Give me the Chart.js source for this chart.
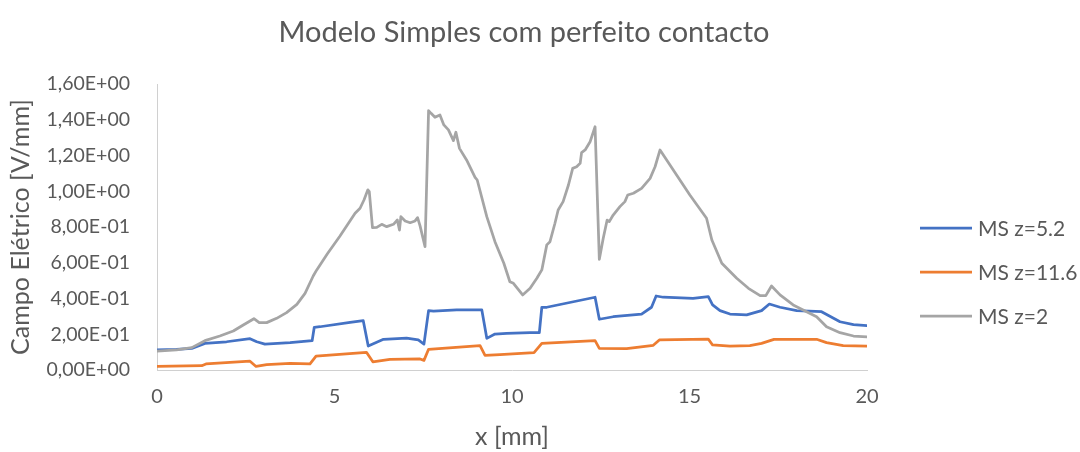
<!DOCTYPE html>
<html>
<head>
<meta charset="utf-8">
<script src="https://cdn.jsdelivr.net/npm/chart.js@4.4.1/dist/chart.umd.min.js"></script>
<style>
  html, body { margin: 0; padding: 0; background: #ffffff; }
  #wrap { width: 1080px; height: 452px; }
</style>
</head>
<body>
<div id="wrap"><canvas id="c" width="1080" height="452"></canvas></div>
<script>
// Campo elétrico ao longo de x para três alturas z (Modelo Simples)
const chartTitle = 'Modelo Simples com perfeito contacto';
const xAxisTitle = 'x [mm]';
const yAxisTitle = 'Campo Elétrico [V/mm]';
const seriesNames = ['MS z=5.2', 'MS z=11.6', 'MS z=2'];

const xTicks = [0, 5, 10, 15, 20];
const yTicks = [0, 0.2, 0.4, 0.6, 0.8, 1.0, 1.2, 1.4, 1.6];

// MS z=5.2
const xZ52 = [0, 0.55, 0.98, 1.35, 1.96, 2.62, 2.81, 3.04, 3.75, 4.37, 4.43, 4.59, 5.44, 5.81, 5.95, 6.38, 7.03, 7.36, 7.52, 7.65, 7.79, 8.44, 9.15, 9.29, 9.52, 9.85, 10.51, 10.77, 10.84, 10.98, 12.34, 12.46, 12.85, 13.65, 13.93, 14.06, 14.26, 15.1, 15.53, 15.65, 15.86, 16.14, 16.61, 17.03, 17.25, 17.55, 18.02, 18.72, 19.24, 19.62, 20];
const yZ52 = [0.112, 0.115, 0.121, 0.149, 0.158, 0.175, 0.158, 0.145, 0.153, 0.164, 0.239, 0.242, 0.267, 0.276, 0.134, 0.172, 0.178, 0.168, 0.145, 0.332, 0.330, 0.336, 0.336, 0.177, 0.201, 0.205, 0.209, 0.209, 0.351, 0.351, 0.407, 0.284, 0.298, 0.313, 0.351, 0.414, 0.407, 0.401, 0.410, 0.364, 0.332, 0.313, 0.308, 0.332, 0.369, 0.351, 0.332, 0.326, 0.270, 0.254, 0.248];

// MS z=11.6
const xZ116 = [0, 1.26, 1.38, 2.62, 2.79, 3.09, 3.75, 4.31, 4.48, 5.9, 6.08, 6.56, 7.41, 7.52, 7.65, 9.1, 9.24, 9.66, 10.62, 10.84, 12.34, 12.46, 13.23, 13.98, 14.15, 15.53, 15.65, 16.14, 16.7, 17.03, 17.38, 18.58, 18.86, 19.33, 20];
const yZ116 = [0.020, 0.024, 0.034, 0.049, 0.020, 0.030, 0.037, 0.034, 0.078, 0.099, 0.046, 0.060, 0.062, 0.054, 0.116, 0.136, 0.082, 0.086, 0.097, 0.149, 0.164, 0.121, 0.119, 0.138, 0.168, 0.173, 0.140, 0.133, 0.136, 0.149, 0.171, 0.172, 0.153, 0.136, 0.134];

// MS z=2
const xZ2 = [0, 0.55, 0.98, 1.35, 1.77, 2.15, 2.43, 2.73, 2.88, 3.09, 3.37, 3.65, 3.94, 4.17, 4.4, 4.5, 4.8, 5.15, 5.58, 5.72, 5.83, 5.94, 5.98, 6.07, 6.19, 6.33, 6.47, 6.66, 6.77, 6.83, 6.87, 6.99, 7.13, 7.27, 7.34, 7.41, 7.55, 7.65, 7.72, 7.83, 7.97, 8.08, 8.21, 8.35, 8.42, 8.52, 8.72, 8.96, 9.02, 9.29, 9.52, 9.77, 9.94, 10.04, 10.3, 10.51, 10.7, 10.84, 10.98, 11.07, 11.21, 11.3, 11.44, 11.59, 11.71, 11.82, 11.92, 11.96, 12.06, 12.2, 12.34, 12.46, 12.57, 12.68, 12.74, 12.85, 13.04, 13.18, 13.26, 13.42, 13.65, 13.89, 14.03, 14.17, 14.45, 14.73, 15.01, 15.48, 15.63, 15.91, 16.33, 16.66, 16.99, 17.15, 17.31, 17.55, 17.92, 18.58, 18.86, 19.24, 19.62, 20];
const yZ2 = [0.105, 0.112, 0.125, 0.164, 0.190, 0.218, 0.252, 0.287, 0.265, 0.265, 0.289, 0.321, 0.367, 0.429, 0.526, 0.560, 0.650, 0.748, 0.877, 0.905, 0.951, 1.008, 0.998, 0.796, 0.798, 0.815, 0.802, 0.815, 0.839, 0.783, 0.858, 0.834, 0.824, 0.834, 0.852, 0.806, 0.690, 1.451, 1.436, 1.414, 1.427, 1.371, 1.343, 1.283, 1.330, 1.240, 1.175, 1.078, 1.063, 0.858, 0.718, 0.597, 0.494, 0.485, 0.420, 0.457, 0.513, 0.560, 0.700, 0.718, 0.821, 0.895, 0.942, 1.035, 1.128, 1.137, 1.156, 1.216, 1.231, 1.277, 1.361, 0.619, 0.737, 0.839, 0.830, 0.867, 0.914, 0.942, 0.979, 0.989, 1.016, 1.072, 1.137, 1.231, 1.147, 1.063, 0.979, 0.849, 0.727, 0.597, 0.513, 0.457, 0.416, 0.416, 0.470, 0.420, 0.364, 0.298, 0.242, 0.209, 0.190, 0.186];

const seriesColors = ['#4472C4', '#ED7D31', '#A5A5A5'];

const FONT = 'Lato, "Open Sans", sans-serif';
const TEXT = '#595959';

function toPoints(xs, ys) {
  return xs.map((x, i) => ({ x: x, y: ys[i] }));
}

// 1,60E+00 style labels
function sciComma(v) {
  if (Math.abs(v) < 1e-12) return '0,00E+00';
  let e = Math.floor(Math.log10(Math.abs(v)) + 1e-9);
  let ms = (v / Math.pow(10, e)).toFixed(2);
  if (parseFloat(ms) >= 10) { e += 1; ms = (v / Math.pow(10, e)).toFixed(2); }
  const es = (e < 0 ? '-' : '+') + String(Math.abs(e)).padStart(2, '0');
  return ms.replace('.', ',') + 'E' + es;
}

// Title and series key drawn onto the canvas
const headerAndKey = {
  id: 'headerAndKey',
  afterDraw(chart) {
    const ctx = chart.ctx;
    ctx.save();
    ctx.fillStyle = TEXT;
    ctx.font = '29px ' + FONT;
    ctx.textAlign = 'center';
    ctx.textBaseline = 'middle';
    ctx.fillText(chartTitle, 524, 33);

    const rowY = [228, 272, 316];
    ctx.font = '21px ' + FONT;
    ctx.textAlign = 'left';
    chart.data.datasets.forEach((ds, i) => {
      const y = rowY[i];
      ctx.strokeStyle = ds.borderColor;
      ctx.lineWidth = 2.75;
      ctx.lineCap = 'butt';
      ctx.beginPath();
      ctx.moveTo(920, y);
      ctx.lineTo(972, y);
      ctx.stroke();
      ctx.fillStyle = TEXT;
      ctx.fillText(ds.label, 978, y + 1);
    });
    ctx.restore();
  }
};

const datasets = [
  { label: seriesNames[0], data: toPoints(xZ52, yZ52), borderColor: seriesColors[0], order: 3 },
  { label: seriesNames[1], data: toPoints(xZ116, yZ116), borderColor: seriesColors[1], order: 2 },
  { label: seriesNames[2], data: toPoints(xZ2, yZ2), borderColor: seriesColors[2], order: 1 }
].map(d => Object.assign(d, {
  backgroundColor: d.borderColor,
  borderWidth: 2.75,
  pointRadius: 0,
  tension: 0,
  fill: false,
  borderJoinStyle: 'round',
  borderCapStyle: 'round'
}));

new Chart(document.getElementById('c'), {
  type: 'line',
  data: { datasets: datasets },
  options: {
    responsive: false,
    animation: false,
    layout: { padding: { top: 84, right: 213, bottom: 0, left: 0 } },
    plugins: {
      legend: { display: false },
      title: { display: false },
      tooltip: { enabled: false }
    },
    scales: {
      x: {
        type: 'linear',
        min: 0,
        max: 20,
        afterBuildTicks(scale) { scale.ticks = xTicks.map(v => ({ value: v })); },
        afterFit(scale) { scale.height = 82; },
        grid: { display: false, drawTicks: false },
        border: { display: true, color: '#d0d0d0', width: 1 },
        ticks: { color: TEXT, font: { family: FONT, size: 20 }, padding: 15, maxRotation: 0 },
        title: { display: true, text: xAxisTitle, color: TEXT, font: { family: FONT, size: 25 }, padding: { top: 0, bottom: 0 } }
      },
      y: {
        type: 'linear',
        min: 0,
        max: 1.6,
        afterBuildTicks(scale) { scale.ticks = yTicks.map(v => ({ value: v })); },
        afterFit(scale) { scale.width = 157; },
        grid: { display: false, drawTicks: false },
        border: { display: true, color: '#d0d0d0', width: 1 },
        ticks: { color: TEXT, font: { family: FONT, size: 19.5 }, padding: 27, callback: v => sciComma(v) },
        title: { display: true, text: yAxisTitle, color: TEXT, font: { family: FONT, size: 25 }, padding: { top: 6, bottom: 0 } }
      }
    }
  },
  plugins: [headerAndKey]
});
</script>
</body>
</html>
